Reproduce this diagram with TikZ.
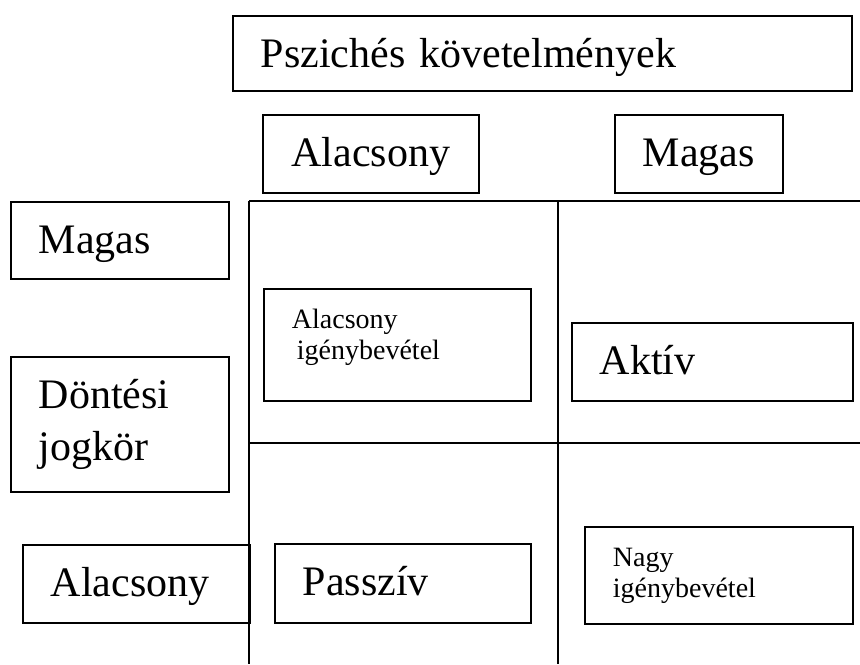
\documentclass[tikz,border=0pt]{standalone}
\usepackage{fontspec}
\setmainfont{Liberation Serif}
\newcommand\bigtxt{\fontsize{21pt}{26pt}\selectfont}
\newcommand\smalltxt{\fontsize{14pt}{15.5pt}\selectfont}
\tikzset{
  tbox/.style={draw, line width=0.9pt, anchor=north west, inner xsep=14pt,
    inner ysep=0pt, align=left, text height=26pt, font=\bigtxt},
  hdrbox/.style={tbox, inner xsep=8pt, align=center},
  smallbox/.style={tbox, text height=20pt, font=\smalltxt},
  gridline/.style={line width=0.85pt}
}
\begin{document}
\begin{tikzpicture}[x=0.5pt,y=-0.5pt]
  \useasboundingbox (0,0) rectangle (860,664);

  % grid of the four fields
  \draw[gridline] (249,201) -- (860,201);
  \draw[gridline] (249,443) -- (860,443);
  \draw[gridline] (249,201) -- (249,664);
  \draw[gridline] (558,201) -- (558,664);

  % header row
  \node[tbox, text width=281.5pt, text depth=11.5pt] (psych) at (232,15) {Pszichés követelmények};
  \node[hdrbox, text width=92pt, text depth=13pt] (psychlow) at (262,114) {Alacsony};
  \node[hdrbox, text width=68pt, text depth=13pt] (psychhigh) at (614,114) {Magas};

  % left column
  \node[tbox, text width=81pt, text depth=12.5pt] (dechigh) at (10,201) {Magas};
  \node[tbox, text width=81pt, text depth=41.5pt] (decision) at (10,356) {Döntési\\jogkör};
  \node[tbox, text width=85.5pt, text depth=13pt] (declow) at (22,544) {Alacsony};

  % fields
  \node[smallbox, text width=105.5pt, text depth=36pt] (lowstrain) at (263,288) {Alacsony\\\hspace*{2.5pt}igénybevétel};
  \node[tbox, text width=112.5pt, text depth=13pt] (active) at (571,322) {Aktív};
  \node[tbox, text width=100pt, text depth=13.5pt] (passive) at (274,543) {Passzív};
  \node[smallbox, text width=106pt, text depth=28.5pt] (highstrain) at (584,526) {Nagy\\igénybevétel};
\end{tikzpicture}
\end{document}
